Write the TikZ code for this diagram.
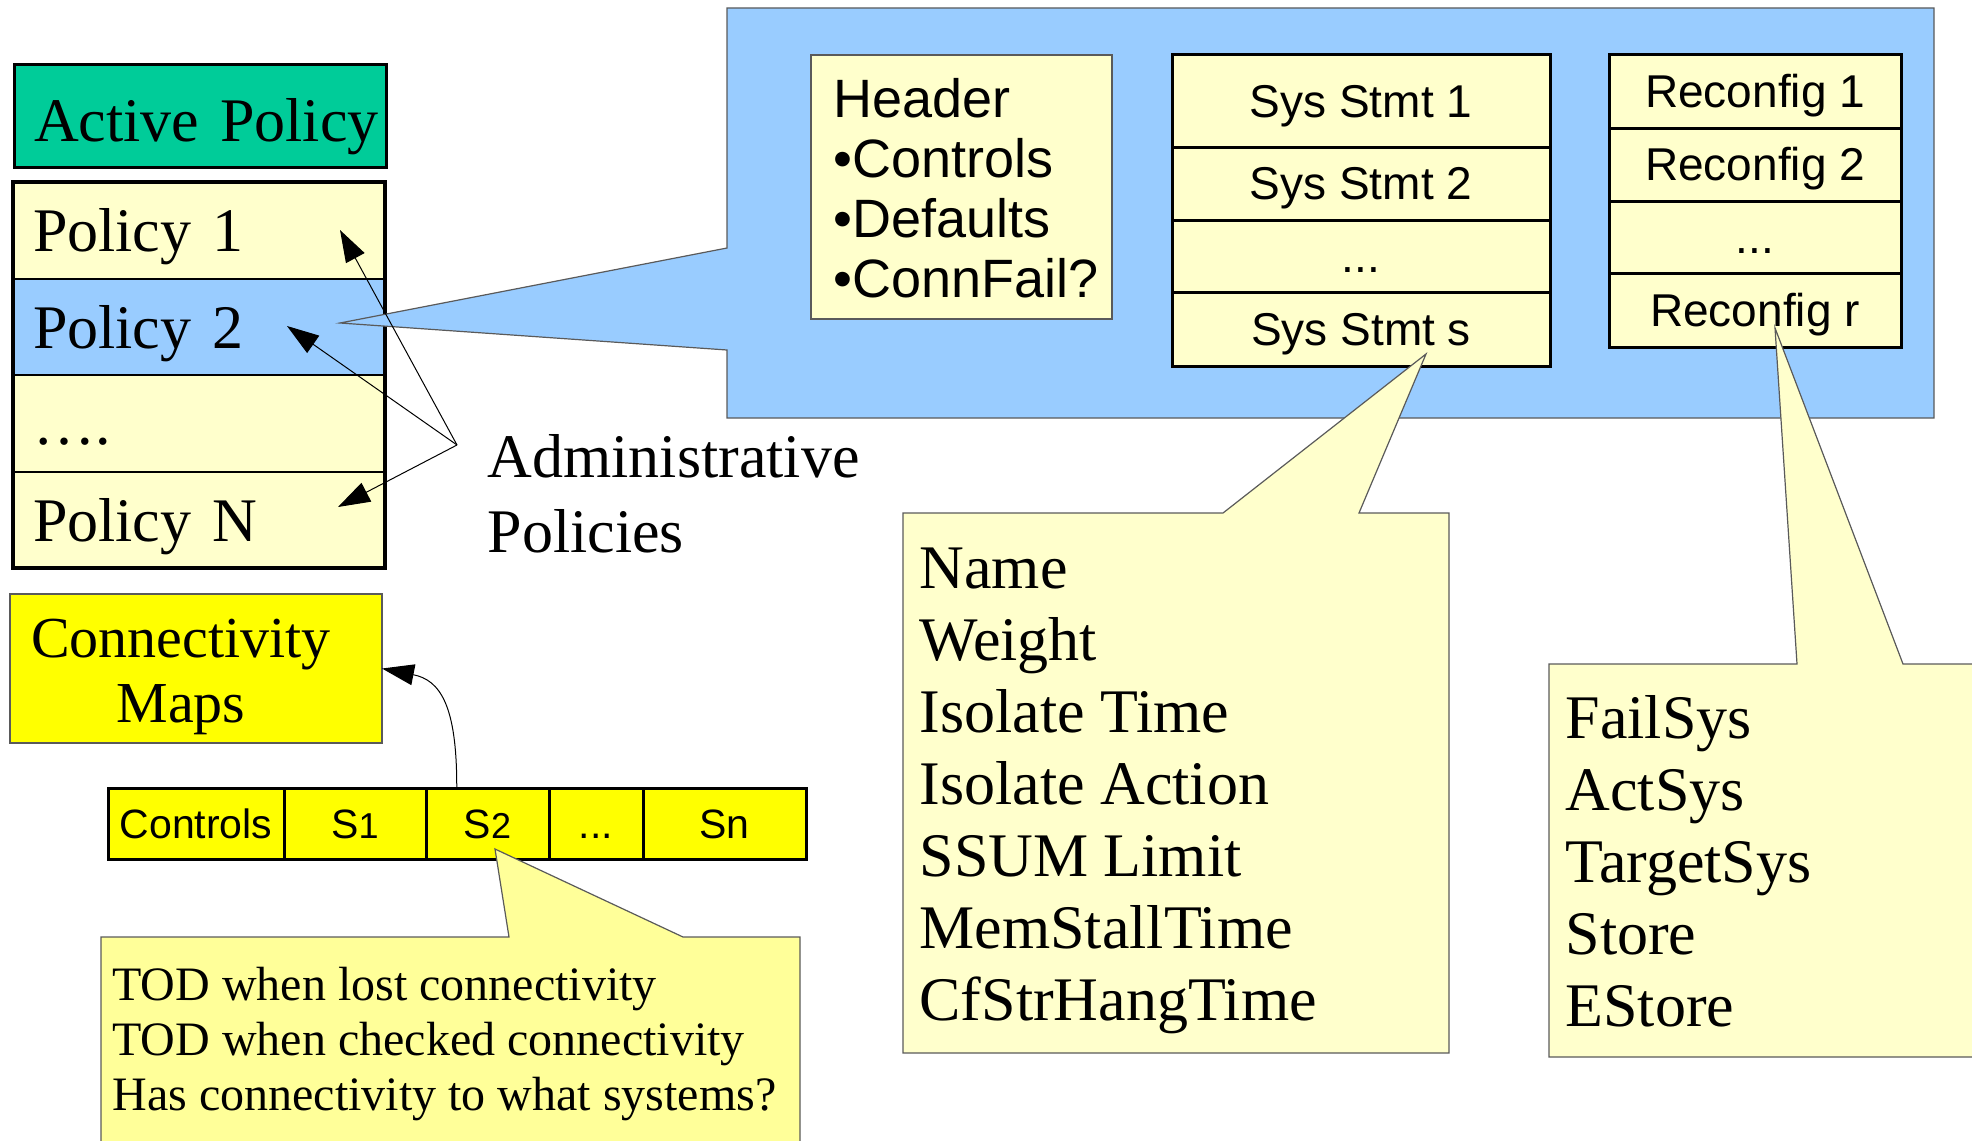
\documentclass[tikz,border=0pt]{standalone}
\usepackage{fontspec}
\setmainfont{Liberation Serif}
\setsansfont{Liberation Sans}[Ligatures=CommonOff]
\usetikzlibrary{positioning, arrows.meta, calc}
\definecolor{verde}{HTML}{00CC99}
\definecolor{azul}{HTML}{99CCFF}
\definecolor{crema}{HTML}{FFFFCC}
\definecolor{amarillo}{HTML}{FFFF00}
\definecolor{amarilloclaro}{HTML}{FFFF99}
\definecolor{borde}{HTML}{5A5A5A}
\newcommand{\digito}[1]{{\fontsize{36}{40}\selectfont #1}}
\tikzset{
	x=1pt, y=-1pt, % Un punto por pixel, eje y hacia abajo
	>={Triangle[length=32pt, width=21pt]}, % Puntas de flecha rellenas
	serifgrande/.style={font=\fontsize{62}{72}\selectfont}, % Texto grande con serifas
	serifmapas/.style={font=\fontsize{58}{65}\selectfont}, % Texto de los mapas
	serifmedia/.style={font=\fontsize{48}{55}\selectfont}, % Texto del globo de S2
	sansgrande/.style={font=\sffamily\fontsize{54}{60}\selectfont}, % Texto de la cabecera
	sansmedia/.style={font=\sffamily\fontsize{46}{52}\selectfont}, % Texto de las columnas
	caja/.style={draw=borde, line width=1.2pt, inner sep=0pt, outer sep=0pt, anchor=north west}, % Cajas de borde fino
	globo/.style={draw=borde, line width=1.2pt}, % Globos con punta
	fila/.style={draw, line width=2pt, fill=crema, minimum width=372pt, minimum height=96.5pt,
		inner xsep=20pt, inner ysep=0pt, outer sep=0pt, text width=332pt, align=left,
		text height=50pt, text depth=7pt, serifgrande}, % Filas de la lista de politicas
	celda/.style={draw, line width=3pt, fill=crema, inner sep=0pt, outer sep=0pt,
		text height=40pt, text depth=8pt, sansmedia}, % Celdas de las columnas
	barra/.style={draw, line width=3pt, fill=amarillo, minimum height=71pt, inner sep=0pt, outer sep=0pt,
		text height=35pt, text depth=6pt, font=\sffamily\fontsize{41}{45}\selectfont} % Celdas de la barra
}

\begin{document}
\begin{tikzpicture}
	\useasboundingbox (0,0) rectangle (1972,1140);

	\node[draw, line width=3pt, fill=verde, anchor=north west, minimum width=372pt, minimum height=103pt,
		inner xsep=8pt, text width=356pt, align=right, text height=56pt, text depth=5pt, serifgrande] (activa) at (13,63) {Active Policy};

	\node[fila, anchor=north west] (pol1) at (13,182) {Policy 1};
	\node[fila, fill=azul, below=0pt of pol1] (pol2) {Policy 2};
	\node[fila, below=0pt of pol2] (pol3) {….};
	\node[fila, below=0pt of pol3] (polN) {Policy N};
	\draw[line width=4.5pt] (pol1.north west) rectangle (polN.south east);

	\coordinate (punta) at (340,323);
	\draw[globo, fill=azul] (727,8) -- (1934,8) -- (1934,418) -- (727,418) -- (727,350) -- (punta) -- (727,248) -- cycle;

	\node[caja, fill=crema, minimum width=301pt, minimum height=264pt] (cabecera) at (811,55) {};
	\foreach \t [count=\i] in {Header, •Controls, •Defaults, •ConnFail?}
		\node[sansgrande, anchor=base west] (cab\i) at (830,57+60*\i) {\t};

	\node[celda, minimum width=378pt, minimum height=92pt, anchor=north west] (sys1) at (1172,55) {Sys Stmt 1};
	\node[celda, minimum width=378pt, minimum height=73pt, below=0pt of sys1] (sys2) {Sys Stmt 2};
	\node[celda, minimum width=378pt, minimum height=72pt, below=0pt of sys2] (sys3) {...};
	\node[celda, minimum width=378pt, minimum height=74pt, below=0pt of sys3] (sysS) {Sys Stmt s};

	\node[celda, minimum width=292pt, minimum height=73pt, anchor=north west] (rec1) at (1609,55) {Reconfig 1};
	\node[celda, minimum width=292pt, minimum height=73pt, below=0pt of rec1] (rec2) {Reconfig 2};
	\node[celda, minimum width=292pt, minimum height=72pt, below=0pt of rec2] (rec3) {...};
	\node[celda, minimum width=292pt, minimum height=74pt, below=0pt of rec3] (recR) {Reconfig r};

	\coordinate (puntaSys) at (1426,354);
	\draw[globo, fill=crema] (903,513) -- (1223,513) -- (puntaSys) -- (1359,513) -- (1449,513) -- (1449,1053) -- (903,1053) -- cycle;
	\foreach \t [count=\i] in {Name, Weight, Isolate Time, Isolate Action, SSUM Limit, MemStallTime, CfStrHangTime}
		\node[serifgrande, anchor=base west] (campo\i) at (916,516+72*\i) {\t};

	\coordinate (puntaRec) at (1775,328);
	\draw[globo, fill=crema] (1549,664) -- (1797,664) -- (puntaRec) -- (1903,664) -- (1990,664) -- (1990,1057) -- (1549,1057) -- cycle;
	\foreach \t [count=\i] in {FailSys, ActSys, TargetSys, Store, EStore}
		\node[serifgrande, anchor=base west] (accion\i) at (1562,666+72*\i) {\t};

	\node[barra, minimum width=176pt, anchor=north west] (ctl) at (108,788) {Controls};
	\node[barra, minimum width=142pt, right=0pt of ctl] (s1) {S\digito{1}};
	\node[barra, minimum width=123pt, right=0pt of s1] (s2) {S\digito{2}};
	\node[barra, minimum width=94pt, right=0pt of s2] (sdots) {...};
	\node[barra, minimum width=163pt, right=0pt of sdots] (sn) {Sn};

	\coordinate (puntaS) at (495,849);
	\draw[globo, fill=amarilloclaro] (101,937) -- (509,937) -- (puntaS) -- (683,937) -- (800,937) -- (800,1160) -- (101,1160) -- cycle;
	\foreach \t [count=\i] in {TOD when lost connectivity, TOD when checked connectivity, Has connectivity to what systems?}
		\node[serifmedia, anchor=base west] (tod\i) at (109,945+55*\i) {\t};

	\node[caja, fill=amarillo, minimum width=372pt, minimum height=149pt] (mapas) at (10,594) {};
	\node[serifmapas, anchor=base] (mapas1) at (181,657) {Connectivity};
	\node[serifmapas, anchor=base] (mapas2) at (181,722) {Maps};
	\draw[->, line width=1pt] ($(s2.north west)!0.25!(s2.north east)$) .. controls (457,705) and (440,680) .. (mapas.east);

	\node[serifgrande, anchor=base west] (admin1) at (484,477) {Administrative};
	\node[serifgrande, anchor=base west] (admin2) at (484,552) {Policies};
	\coordinate (centro) at (457,445);
	\coordinate (flecha1) at (340,230);
	\coordinate (flecha2) at (287,326);
	\coordinate (flechaN) at (338,507);
	\path[->, line width=1pt] (centro) edge (flecha1) edge (flecha2) edge (flechaN);
\end{tikzpicture}
\end{document}
